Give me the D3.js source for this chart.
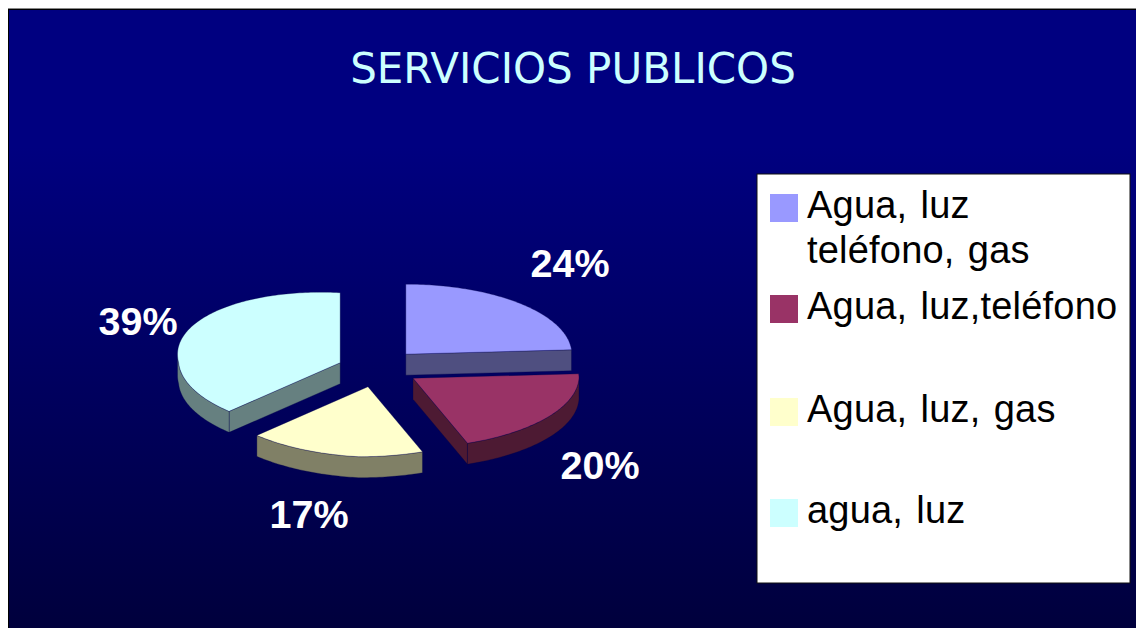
<!DOCTYPE html>
<html>
<head>
<meta charset="utf-8">
<script src="https://cdn.jsdelivr.net/npm/d3@7"></script>
<style>
  html, body { margin: 0; padding: 0; background: #fff; overflow: hidden; }
  svg { display: block; }
</style>
</head>
<body>
<svg id="chart" width="1136" height="628"></svg>
<script>
const categories = ["Agua, luz teléfono, gas", "Agua, luz,teléfono", "Agua, luz, gas", "agua, luz"];
const legendLines = [["Agua, luz", "teléfono, gas"], ["Agua, luz,teléfono"], ["Agua, luz, gas"], ["agua, luz"]];
const percents = [24, 20, 17, 39];
const topColors = ["#9999ff", "#993366", "#ffffcc", "#ccffff"];
const sideColors = ["#4f4f80", "#4d1a33", "#808066", "#668080"];

const svg = d3.select("#chart");

// background
const grad = svg.append("defs").append("linearGradient")
  .attr("id", "bg").attr("x1", 0).attr("y1", 0).attr("x2", 0).attr("y2", 1);
grad.append("stop").attr("offset", "0%").attr("stop-color", "#000080");
grad.append("stop").attr("offset", "22%").attr("stop-color", "#000080");
grad.append("stop").attr("offset", "100%").attr("stop-color", "#00003c");

svg.append("line").attr("x1", 8).attr("x2", 1136).attr("y1", 8.5).attr("y2", 8.5)
  .attr("stroke", "#888");
svg.append("rect").attr("x", 8.5).attr("y", 9.5).attr("width", 1130).attr("height", 622)
  .attr("fill", "url(#bg)").attr("stroke", "#000");

svg.append("text")
  .attr("x", 573).attr("y", 82.5)
  .attr("text-anchor", "middle")
  .attr("font-family", "DejaVu Sans")
  .attr("font-size", 42)
  .attr("fill", "#ccffff")
  .text("SERVICIOS PUBLICOS");

// 3d pie: ellipse radii, wall depth, explode distance per slice
const cx = 375, cy = 368, rx = 166, ry = 70, depth = 21;
const explode = [45, 45, 45, 37];
const rad = Math.PI / 180;

const pie = d3.pie().sort(null).startAngle(0).endAngle(2 * Math.PI);
const slices = pie(percents).map((d, i) => {
  const mid = (d.startAngle + d.endAngle) / 2;
  return {
    ...d, i,
    ox: cx + explode[i] * Math.sin(mid),
    oy: cy - explode[i] * Math.cos(mid) * ry / rx
  };
});

// the original's perspective: front of the rim leans left, left side is lifted and narrower
const rimPoint = (s, a, dz = 0) => {
  const x0 = rx * Math.sin(a), y0 = -ry * Math.cos(a);
  const x = x0 < 0 ? x0 * 0.98 : x0;
  const y = y0 + 0.05 * Math.min(x0, 0);
  const lean = 0.12 - 0.05 * Math.sin(a);
  return [s.ox + x - lean * Math.max(y, 0), s.oy + y + dz];
};
const rimPoints = (s, a0, a1, dz = 0) =>
  d3.range(a0, a1, rad).concat([a1]).map(a => rimPoint(s, a, dz));

const line = d3.line();
const edge = "rgba(0,0,70,0.45)";
const pieG = svg.append("g");

const wall = (s, pts) => pieG.append("path")
  .attr("d", line(pts) + "Z")
  .attr("fill", sideColors[s.i])
  .attr("stroke", edge).attr("stroke-width", 0.7);

slices.forEach(s => {
  const apex = [s.ox, s.oy], apexLow = [s.ox, s.oy + depth];
  // radial walls, only when they face the viewer
  if (Math.sin(s.endAngle) > 0.01) {
    wall(s, [apex, rimPoint(s, s.endAngle), rimPoint(s, s.endAngle, depth), apexLow]);
  }
  if (Math.sin(s.startAngle) < -0.01) {
    wall(s, [apex, rimPoint(s, s.startAngle), rimPoint(s, s.startAngle, depth), apexLow]);
  }
  // outer wall on the front half of the ellipse
  const a0 = Math.max(s.startAngle, Math.PI / 2), a1 = Math.min(s.endAngle, 1.5 * Math.PI);
  if (a1 > a0) {
    wall(s, rimPoints(s, a0, a1).concat(rimPoints(s, a0, a1, depth).reverse()));
  }
  pieG.append("path")
    .attr("d", line([apex, ...rimPoints(s, s.startAngle, s.endAngle)]) + "Z")
    .attr("fill", topColors[s.i])
    .attr("stroke", edge).attr("stroke-width", 0.7);
});

// percent labels
const labelAnchors = [[570, 277], [600, 479], [309, 528], [138, 335]];
svg.append("g").selectAll("text").data(percents).join("text")
  .attr("x", (d, i) => labelAnchors[i][0])
  .attr("y", (d, i) => labelAnchors[i][1])
  .attr("text-anchor", "middle")
  .attr("font-family", "Liberation Sans")
  .attr("font-weight", "bold")
  .attr("font-size", 39.5)
  .attr("fill", "#fff")
  .text(d => d + "%");

// legend
svg.append("rect").attr("x", 757).attr("y", 174).attr("width", 373).attr("height", 409)
  .attr("fill", "#fff").attr("stroke", "#111");

const legendTops = [194, 295, 398, 499];
const legend = svg.append("g").selectAll("g").data(categories).join("g")
  .attr("transform", (d, i) => `translate(770,${legendTops[i]})`);
legend.append("rect").attr("width", 28).attr("height", 28)
  .attr("fill", (d, i) => topColors[i]);
legend.append("text")
  .attr("font-family", "Liberation Sans")
  .attr("font-size", 38)
  .attr("letter-spacing", 0.2)
  .attr("word-spacing", 2.5)
  .attr("fill", "#000")
  .selectAll("tspan").data((d, i) => legendLines[i]).join("tspan")
  .attr("x", 37)
  .attr("y", (d, j) => 23.5 + j * 45)
  .text(d => d);
</script>
</body>
</html>
